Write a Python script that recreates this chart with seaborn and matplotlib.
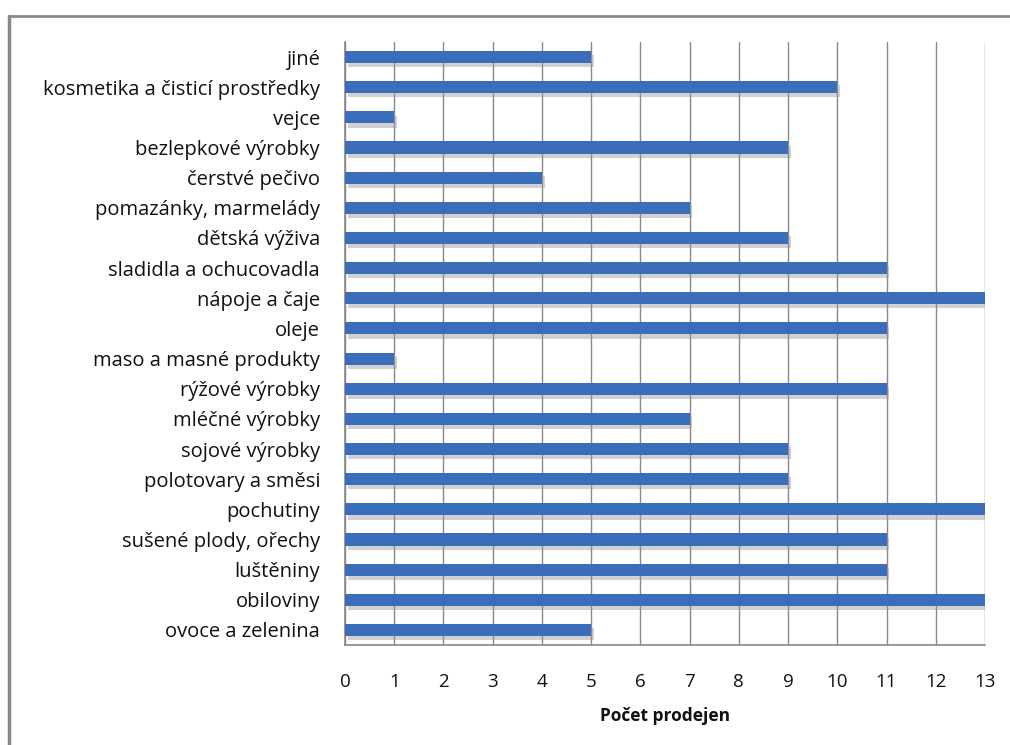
import matplotlib
matplotlib.use("Agg")
import matplotlib.pyplot as plt
import matplotlib.patheffects as pe
from matplotlib.lines import Line2D
import seaborn as sns
import pandas as pd

categories = [
    "jiné",
    "kosmetika a čisticí prostředky",
    "vejce",
    "bezlepkové výrobky",
    "čerstvé pečivo",
    "pomazánky, marmelády",
    "dětská výživa",
    "sladidla a ochucovadla",
    "nápoje a čaje",
    "oleje",
    "maso a masné produkty",
    "rýžové výrobky",
    "mléčné výrobky",
    "sojové výrobky",
    "polotovary a směsi",
    "pochutiny",
    "sušené plody, ořechy",
    "luštěniny",
    "obiloviny",
    "ovoce a zelenina",
]
values = [5, 10, 1, 9, 4, 7, 9, 11, 13, 11, 1, 11, 7, 9, 9, 13, 11, 11, 13, 5]
x_ticks = list(range(0, 14))
x_label = "Počet prodejen"

df = pd.DataFrame({"kategorie": categories, "pocet": values})

sns.set_style("white")
plt.rcParams["font.family"] = ["Open Sans", "DejaVu Sans"]

fig = plt.figure(figsize=(10.10, 7.45), dpi=100)
ax = fig.add_axes([345 / 1010, 1 - 645 / 745, 640 / 1010, 603 / 745])

sns.barplot(data=df, x="pocet", y="kategorie", orient="h", color="#3A6EBB",
            width=0.40, saturation=1, ax=ax, zorder=3)
for p in ax.patches:
    p.set_path_effects([pe.SimplePatchShadow(offset=(2, -3), shadow_rgbFace="#999999", alpha=0.45), pe.Normal()])
    p.set_linewidth(0)

ax.set_xlim(0, 13)
ax.set_ylim(len(categories) - 0.5, -0.5)
ax.set_xticks(x_ticks)
ax.grid(axis="x", color="#888888", linewidth=1, zorder=0)
ax.grid(axis="y", visible=False)
for s in ["top", "right"]:
    ax.spines[s].set_visible(False)
for s in ["left", "bottom"]:
    ax.spines[s].set_color("#888888")
    ax.spines[s].set_linewidth(1.2)
ax.tick_params(axis="x", length=0, pad=20, labelsize=13.5, colors="#111111")
ax.tick_params(axis="y", length=0, pad=18, labelsize=14.5, colors="#111111")
ax.set_ylabel("")
ax.set_xlabel(x_label, fontsize=12.5, fontweight="bold", labelpad=12, color="#111111")

# outer frame
fig.add_artist(Line2D([9 / 1010, 9 / 1010], [0, 1 - 16 / 745], color="#888888", lw=2.5,
                      transform=fig.transFigure))
fig.add_artist(Line2D([9 / 1010, 1], [1 - 16 / 745, 1 - 16 / 745], color="#888888", lw=2,
                      transform=fig.transFigure))

fig.savefig("out.png", dpi=100)
